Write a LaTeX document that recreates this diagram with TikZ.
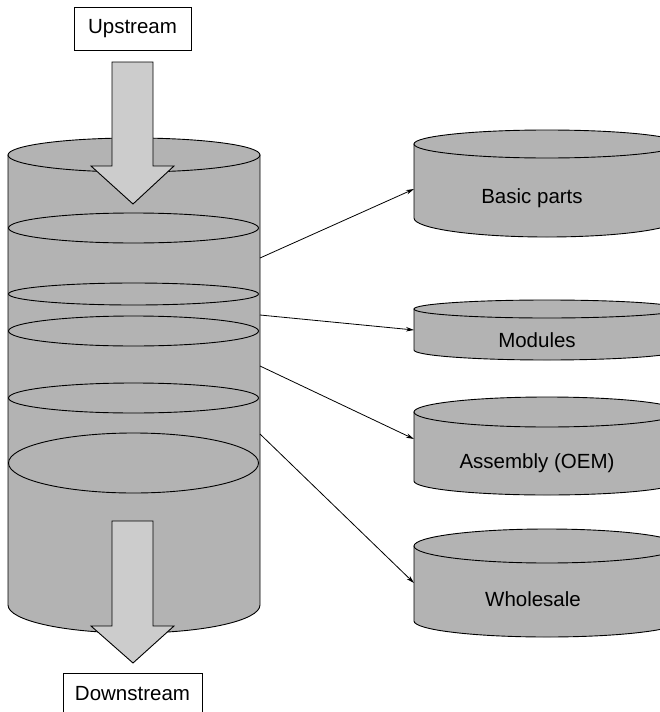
\documentclass[tikz,border=0pt]{standalone}
\usepackage{fontspec}
\setmainfont{Liberation Sans}
\usetikzlibrary{arrows.meta}
\definecolor{cylgray}{HTML}{B3B3B3}
\definecolor{arrgray}{HTML}{CCCCCC}
\begin{document}
\begin{tikzpicture}[x=1pt,y=-1pt,
  outl/.style={draw=black,line width=0.9pt},
  cylfill/.style={outl,fill=cylgray},
  blockarrow/.style={outl,fill=arrgray,line join=miter},
  lbl/.style={font=\fontsize{20.5}{24}\selectfont,inner sep=0pt},
  boxlbl/.style={draw=black,line width=0.9pt,fill=white,font=\fontsize{20.5}{24}\selectfont,inner sep=0pt},
  conn/.style={line width=0.8pt,-{Stealth[length=8pt,width=4.5pt]}}]
\useasboundingbox (0,0) rectangle (660,712);
\clip (0,0) rectangle (660,712);
% main cylinder
\path[cylfill] (8,155) -- (8,605) arc[start angle=180,end angle=0,x radius=126,y radius=28] -- (260,155) -- cycle;
\path[cylfill] (134,155) ellipse (126 and 17);
\foreach \cy/\ry in {228/15,294/11,331/15,398/15,463/30}{
  \draw[outl] (133.5,\cy) ellipse (125 and \ry);
}
% upstream
\node[boxlbl,minimum width=117pt,minimum height=43pt] (up) at (132.5,28.5) {Upstream};
\path[blockarrow] (112,62) -- (153,62) -- (153,166) -- (174,166) -- (133,204) -- (91,166) -- (112,166) -- cycle;
% downstream
\path[blockarrow] (112,521) -- (153,521) -- (153,626) -- (174,626) -- (133,663) -- (91,626) -- (112,626) -- cycle;
\node[boxlbl,minimum width=139pt,minimum height=48pt] (down) at (132.5,697) {};
\node[lbl] (downt) at (132.5,694) {Downstream};
% right cylinders
\foreach \nm/\ty/\tr/\by/\br in {bp/144/14/218/19, mo/309/9/350/10, as/412/15/481/14, wh/546/17/621/16}{
  \path[cylfill] (414,\ty) -- (414,\by) arc[start angle=180,end angle=0,x radius=133,y radius=\br] -- (680,\ty) -- cycle;
  \path[cylfill] (547,\ty) ellipse (133 and \tr);
  \coordinate (\nm) at (414,\ty);
}
\node[lbl] (tbp) at (532,198) {Basic parts};
\node[lbl] (tmo) at (537,340) {Modules};
\node[lbl] (tas) at (537,463) {Assembly (OEM)};
\node[lbl] (twh) at (533,599) {Wholesale};
% connectors
\coordinate (s1) at (260,258); \coordinate (e1) at (414,189);
\coordinate (s2) at (260,315); \coordinate (e2) at (414,330);
\coordinate (s3) at (260,366); \coordinate (e3) at (414,439);
\coordinate (s4) at (260,434); \coordinate (e4) at (414,583);
\draw[conn] (s1) -- (e1);
\draw[conn] (s2) -- (e2);
\draw[conn] (s3) -- (e3);
\draw[conn] (s4) -- (e4);
\end{tikzpicture}
\end{document}
